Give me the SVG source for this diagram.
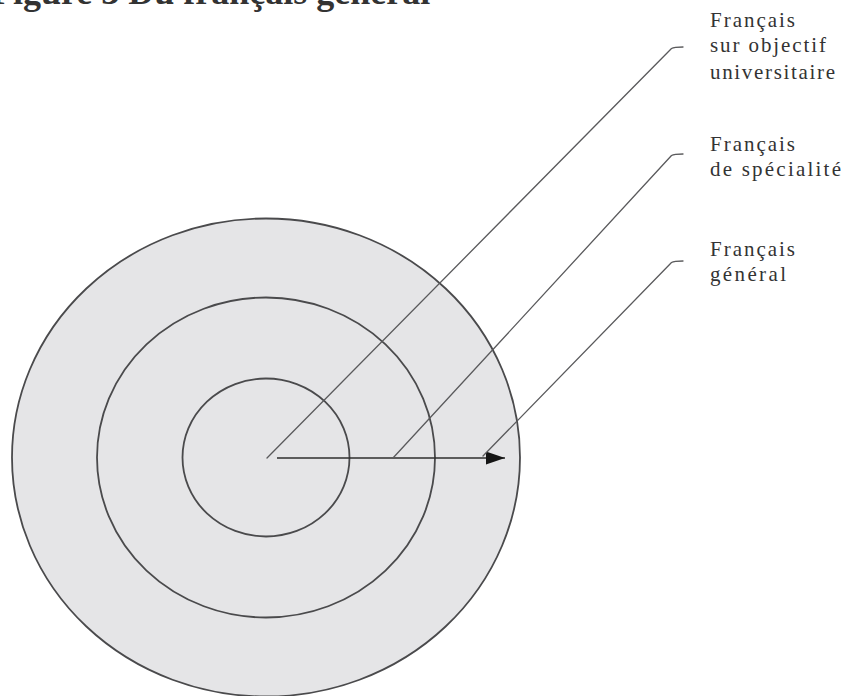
<svg xmlns="http://www.w3.org/2000/svg" width="843" height="696" viewBox="0 0 843 696">
  <defs>
    <style>
      .ring { fill: none; stroke: #4a4a4c; stroke-width: 1.8; }
      .leader { fill: none; stroke: #5a5a5c; stroke-width: 1.3; stroke-linecap: round; stroke-linejoin: round; }
      .label { font-family: "Liberation Serif", "Times New Roman", serif; font-size: 21px; fill: #333333; }
      .title { font-family: "Liberation Serif", "Times New Roman", serif; font-size: 36px; font-weight: bold; fill: #333; }
    </style>
    <marker id="arrowhead" viewBox="0 0 19 13" refX="19" refY="6.5" markerWidth="19" markerHeight="13" markerUnits="userSpaceOnUse" orient="auto">
      <path d="M0,0 L19,6.5 L0,13 Z" fill="#151515"/>
    </marker>
  </defs>
  <rect width="843" height="696" fill="#ffffff"/>

  <text class="title" x="-9" y="4">Figure 3 Du français général</text>

  <g id="outer-ring">
    <ellipse cx="266" cy="457.5" rx="254" ry="239" class="ring" style="fill:#e5e5e7"/>
  </g>
  <g id="middle-ring">
    <ellipse class="ring" cx="266" cy="457.5" rx="169" ry="160"/>
  </g>
  <g id="inner-ring">
    <ellipse class="ring" cx="266" cy="457.5" rx="83.5" ry="79"/>
  </g>

  <g id="connectors">
    <line x1="277" y1="458" x2="505" y2="458" stroke="#2e2e2e" stroke-width="1.6" marker-end="url(#arrowhead)"/>
    <path class="leader" d="M267,458 L671.5,48.5 Q674,47 683,47"/>
    <path class="leader" d="M393,458 L671.5,155.5 Q674,154 683,154"/>
    <path class="leader" d="M483,456 L671.5,262.5 Q674,261 683,261"/>
  </g>

  <g id="label-fou">
    <text class="label" x="710" y="26.5" textLength="85" lengthAdjust="spacing">Français</text>
    <text class="label" x="710" y="52" textLength="116" lengthAdjust="spacing">sur objectif</text>
    <text class="label" x="710" y="79" textLength="125" lengthAdjust="spacing">universitaire</text>
  </g>
  <g id="label-specialite">
    <text class="label" x="710" y="151" textLength="85" lengthAdjust="spacing">Français</text>
    <text class="label" x="710" y="176" textLength="131" lengthAdjust="spacing">de spécialité</text>
  </g>
  <g id="label-general">
    <text class="label" x="710" y="256" textLength="85" lengthAdjust="spacing">Français</text>
    <text class="label" x="710" y="281" textLength="76" lengthAdjust="spacing">général</text>
  </g>
</svg>
